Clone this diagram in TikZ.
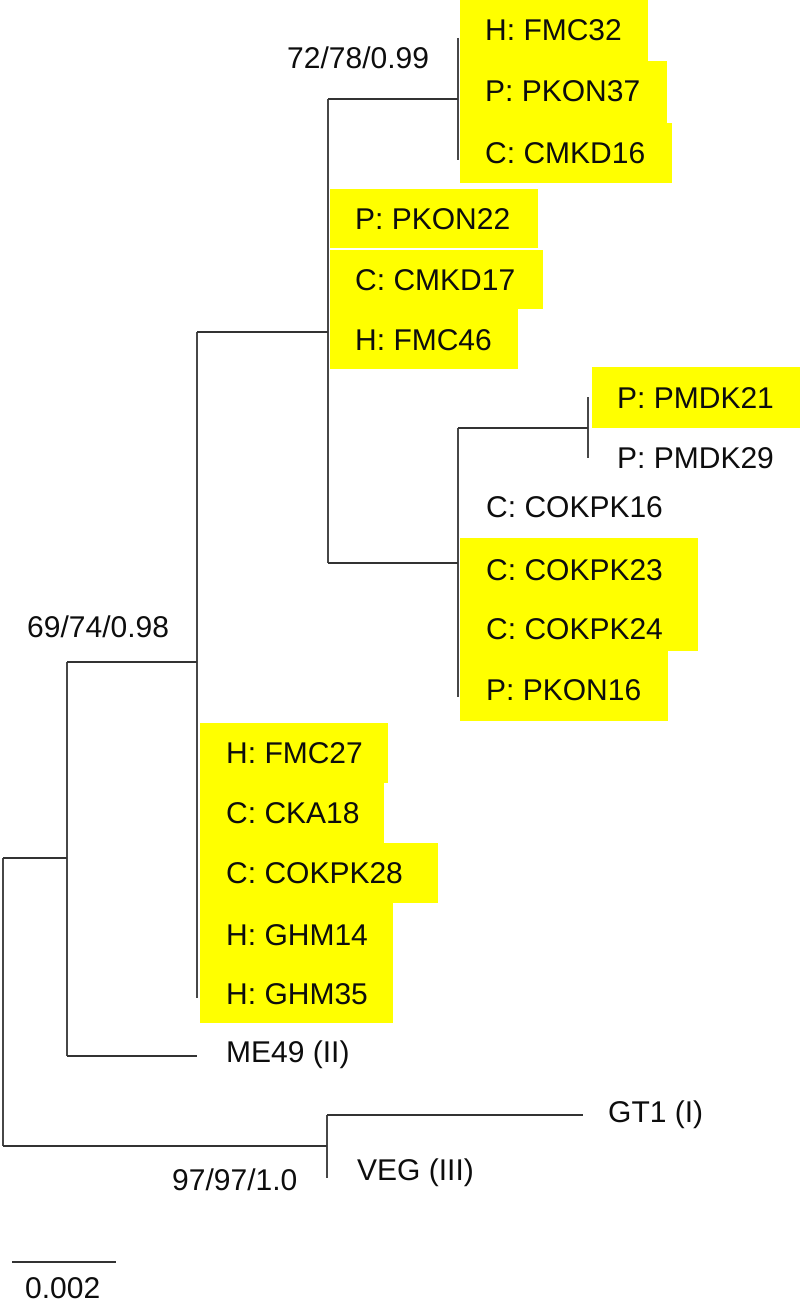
\documentclass[tikz,border=0pt]{standalone}
\usepackage{fontspec}
\setmainfont{Liberation Sans}
\newcommand{\labfont}{\fontsize{30}{36}\selectfont}
\definecolor{hiyel}{RGB}{255,255,0}
\begin{document}
\begin{tikzpicture}[x=1pt,y=-1pt,
  br/.style={draw=black!80, line width=2.4pt},
  vbr/.style={draw=black!72, line width=1.7pt},
  lab/.style={anchor=base west, inner sep=0pt, font=\labfont, text=black!95},
  hl/.style={fill=hiyel}]
\useasboundingbox (0,0) rectangle (800,1303);
\clip (0,0) rectangle (800,1303);
% yellow highlights
\fill[hl] (460,0) rectangle (648,61);
\fill[hl] (460,61) rectangle (667,123);
\fill[hl] (460,123) rectangle (672,183);
\fill[hl] (330,189) rectangle (538,248);
\fill[hl] (330,250) rectangle (543,309);
\fill[hl] (330,309) rectangle (518,369);
\fill[hl] (592,367) rectangle (800,428);
\fill[hl] (460,538) rectangle (698,651);
\fill[hl] (460,651) rectangle (668,721);
\fill[hl] (200,723) rectangle (388,783);
\fill[hl] (200,783) rectangle (384,843);
\fill[hl] (200,843) rectangle (438,903);
\fill[hl] (200,903) rectangle (393,963);
\fill[hl] (200,963) rectangle (393,1023);
% tree coordinates
\coordinate (r1) at (3,858);   \coordinate (r2) at (3,1146);
\coordinate (am) at (67,858);
\coordinate (a1) at (67,662);  \coordinate (a2) at (67,1056);
\coordinate (bm) at (197,662);
\coordinate (b1) at (197,332); \coordinate (b2) at (197,998);
\coordinate (me) at (197,1056);
\coordinate (cm) at (328,332);
\coordinate (c1) at (328,99);  \coordinate (c2) at (328,563);
\coordinate (dm) at (458,99);
\coordinate (d1) at (458,38);  \coordinate (d2) at (458,160);
\coordinate (em) at (458,563);
\coordinate (e1) at (458,428); \coordinate (e2) at (458,697);
\coordinate (fm) at (588,428);
\coordinate (f1) at (588,397); \coordinate (f2) at (588,458);
\coordinate (gm) at (327,1146);
\coordinate (g1) at (327,1115); \coordinate (g2) at (327,1178);
\coordinate (gt) at (583,1115);
\coordinate (s1) at (12,1262); \coordinate (s2) at (116,1262);
% verticals
\draw[vbr] (r1) -- (r2);
\draw[vbr] (a1) -- (a2);
\draw[vbr] (b1) -- (b2);
\draw[vbr] (c1) -- (c2);
\draw[vbr] (d1) -- (d2);
\draw[vbr] (e1) -- (e2);
\draw[vbr] (f1) -- (f2);
\draw[vbr] (g1) -- (g2);
% horizontals
\draw[br] (r1) -- (am);
\draw[br] (r2) -- (gm);
\draw[br] (a1) -- (bm);
\draw[br] (a2) -- (me);
\draw[br] (b1) -- (cm);
\draw[br] (c1) -- (dm);
\draw[br] (c2) -- (em);
\draw[br] (e1) -- (fm);
\draw[br] (g1) -- (gt);
\draw[br] (s1) -- (s2);
% labels
\node[lab] (n1) at (485,41) {H: FMC32};
\node[lab] (n2) at (485,102) {P: PKON37};
\node[lab] (n3) at (485,163) {C: CMKD16};
\node[lab] (n4) at (355,229) {P: PKON22};
\node[lab] (n5) at (355,290) {C: CMKD17};
\node[lab] (n6) at (355,350) {H: FMC46};
\node[lab] (n7) at (617,408) {P: PMDK21};
\node[lab] (n8) at (617,468) {P: PMDK29};
\node[lab] (n9) at (486,517) {C: COKPK16};
\node[lab] (n10) at (486,580) {C: COKPK23};
\node[lab] (n11) at (486,639) {C: COKPK24};
\node[lab] (n12) at (486,700) {P: PKON16};
\node[lab] (n13) at (226,763) {H: FMC27};
\node[lab] (n14) at (226,823) {C: CKA18};
\node[lab] (n15) at (226,883) {C: COKPK28};
\node[lab] (n16) at (226,945) {H: GHM14};
\node[lab] (n17) at (226,1004) {H: GHM35};
\node[lab] (n18) at (226,1062) {ME49 (II)};
\node[lab] (n19) at (608,1122) {GT1 (I)};
\node[lab] (n20) at (357,1180) {VEG (III)};
\node[lab] (s72) at (287,69) {72/78/0.99};
\node[lab] (s69) at (27,637) {69/74/0.98};
\node[lab] (s97) at (172,1190) {97/97/1.0};
\node[lab] (sc) at (25,1298) {0.002};
\end{tikzpicture}
\end{document}
